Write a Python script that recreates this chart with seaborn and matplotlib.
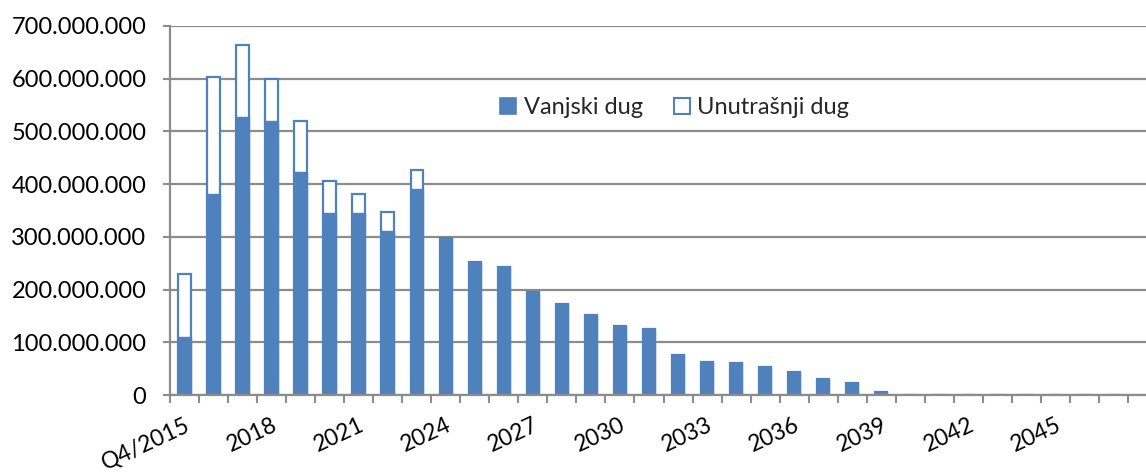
import numpy as np
import pandas as pd
import matplotlib
matplotlib.use("Agg")
import matplotlib.pyplot as plt
from matplotlib.lines import Line2D
from matplotlib.ticker import FuncFormatter, FixedLocator
import seaborn as sns

# ---- data (values in EUR) ----
categories = ['Q4/2015', '2016', '2017', '2018', '2019', '2020', '2021', '2022',
              '2023', '2024', '2025', '2026', '2027', '2028', '2029', '2030',
              '2031', '2032', '2033', '2034', '2035', '2036', '2037', '2038',
              '2039', '2040', '2041', '2042', '2043', '2044', '2045', '2046', '2047']
vanjski_dug = [110e6, 382e6, 528e6, 519e6, 423e6, 346e6, 346e6, 311e6, 391e6,
               297e6, 253e6, 242e6, 196e6, 173e6, 152e6, 131e6, 126e6, 75e6,
               63e6, 60e6, 54e6, 43e6, 30e6, 22e6, 5e6, 0, 0, 0, 0, 0, 0, 0, 0]
unutrasnji_dug = [119e6, 221e6, 136e6, 81e6, 96e6, 60e6, 36e6, 36e6, 35e6,
                  0, 0, 0, 0, 0, 0, 0, 0, 0, 0, 0, 0, 0, 0, 0, 0, 0, 0, 0, 0, 0, 0, 0, 0]
label_every = 3

df = pd.DataFrame({"kategorija": categories,
                   "vanjski": vanjski_dug,
                   "unutrasnji": unutrasnji_dug})
df["ukupno"] = df["vanjski"] + df["unutrasnji"]

sns.set_theme(style="white")
plt.rcParams["font.family"] = ["Lato", "DejaVu Sans"]

BLUE = "#4F81BD"
GRID = "#8C8C8C"

fig = plt.figure(figsize=(11.46, 4.75), dpi=100)
ax = fig.add_axes([170 / 1146, 1 - 395 / 475, 1 - 170 / 1146, (395 - 26) / 475])

# outline bars (total) then filled external debt on top
sns.barplot(data=df, x="kategorija", y="ukupno", order=categories, ax=ax,
            color="white", edgecolor=BLUE, linewidth=1.6, width=0.43,
            saturation=1, errorbar=None, zorder=3)
sns.barplot(data=df, x="kategorija", y="vanjski", order=categories, ax=ax,
            color=BLUE, edgecolor=BLUE, linewidth=1.0, width=0.43,
            saturation=1, errorbar=None, zorder=4)

n = len(categories)
ax.set_ylim(0, 700e6)
ax.set_xlim(-0.5, -0.5 + n * 976 / 958)
ax.set_xlabel("")
ax.set_ylabel("")

# y axis
ax.yaxis.set_major_locator(FixedLocator(np.arange(0, 700e6 + 1, 100e6)))
ax.yaxis.set_major_formatter(FuncFormatter(lambda v, p: f"{int(round(v)):,}".replace(",", ".")))
ax.grid(axis="y", color=GRID, linewidth=1.6, zorder=0)
ax.set_axisbelow(True)

# x axis: boundary ticks (major) + labels at centers (minor)
ax.xaxis.set_major_locator(FixedLocator(np.arange(-0.5, n, 1.0)))
ax.xaxis.set_major_formatter(FuncFormatter(lambda v, p: ""))
label_pos = list(range(0, n, label_every))
ax.xaxis.set_minor_locator(FixedLocator(label_pos))
ax.set_xticklabels([categories[i] for i in label_pos], minor=True)
for lab in ax.get_xticklabels(minor=True):
    lab.set_rotation(25)
    lab.set_ha("right")
    lab.set_va("top")
    lab.set_rotation_mode("anchor")

ax.tick_params(axis="x", which="major", direction="out", length=5.5, width=1.5,
               color=GRID, bottom=True)
ax.tick_params(axis="x", which="minor", length=0, pad=14, labelsize=16.5,
               labelcolor="black", bottom=True)
ax.tick_params(axis="y", which="major", direction="out", length=5, width=1.5,
               color=GRID, left=True, pad=12, labelsize=17, labelcolor="black")

for s in ["top", "right"]:
    ax.spines[s].set_visible(False)
for s in ["left", "bottom"]:
    ax.spines[s].set_color(GRID)
    ax.spines[s].set_linewidth(1.6)
    ax.spines[s].set_zorder(5)

handles = [
    Line2D([], [], linestyle="none", marker="s", markersize=11,
           markerfacecolor=BLUE, markeredgecolor=BLUE, markeredgewidth=1.2),
    Line2D([], [], linestyle="none", marker="s", markersize=11,
           markerfacecolor="white", markeredgecolor=BLUE, markeredgewidth=1.5),
]
ax.legend(handles, ["Vanjski dug", "Unutrašnji dug"], ncol=2, frameon=False,
          fontsize=17, loc="center", bbox_to_anchor=(0.517, 0.778),
          handlelength=0.7, handletextpad=0.3, columnspacing=1.3)

fig.savefig("out.png", dpi=100)
